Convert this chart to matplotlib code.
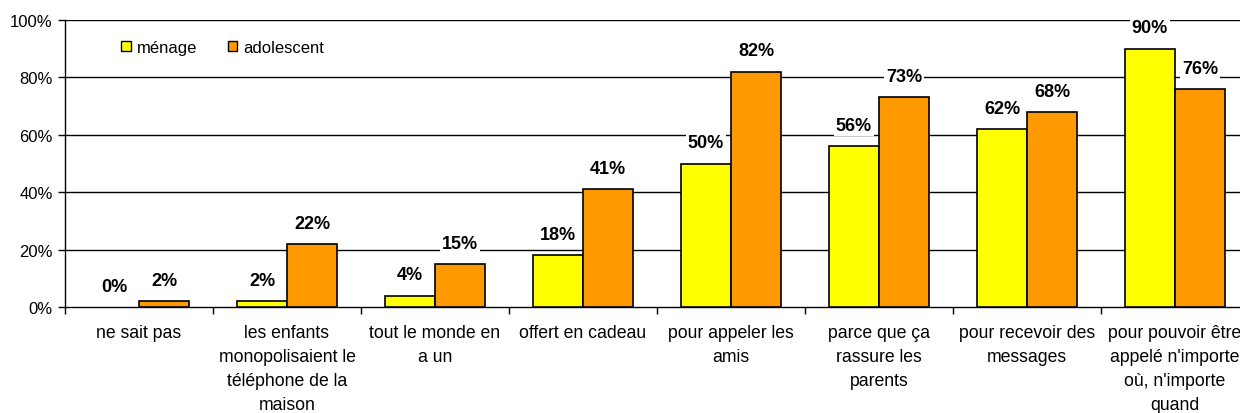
import matplotlib.pyplot as plt
from matplotlib.patches import Patch
import numpy as np

plt.rcParams['font.family'] = ['Liberation Sans', 'DejaVu Sans']

categories = [
    "ne sait pas",
    "les enfants\nmonopolisaient le\ntéléphone de la\nmaison",
    "tout le monde en\na un",
    "offert en cadeau",
    "pour appeler les\namis",
    "parce que ça\nrassure les\nparents",
    "pour recevoir des\nmessages",
    "pour pouvoir être\nappelé n'importe\noù, n'importe\nquand",
]
menage = [0, 2, 4, 18, 50, 56, 62, 90]
adolescent = [2, 22, 15, 41, 82, 73, 68, 76]
y_ticks = [0, 20, 40, 60, 80, 100]

YELLOW = '#FFFF00'
ORANGE = '#FF9900'

fig = plt.figure(figsize=(12.4, 4.14), dpi=100)
ax = fig.add_axes([65 / 1240, 106 / 414, 1184 / 1240, 287 / 414])

x = np.arange(len(categories))
w = 0.338
b1 = ax.bar(x - w / 2, menage, w, color=YELLOW, edgecolor='black', linewidth=1.2, zorder=3)
b2 = ax.bar(x + w / 2, adolescent, w, color=ORANGE, edgecolor='black', linewidth=1.2, zorder=3)

for bars, vals in ((b1, menage), (b2, adolescent)):
    for rect, v in zip(bars, vals):
        if v == 0:
            rect.set_linewidth(0)  # empty bar: no outline
        ax.annotate(f"{v}%", (rect.get_x() + rect.get_width() / 2, v),
                    xytext=(0, 15), textcoords='offset points',
                    ha='center', va='center', fontsize=13, fontweight='bold',
                    bbox=dict(facecolor='white', edgecolor='none', pad=1.5),
                    zorder=4)

ax.set_xlim(-0.5, len(categories) - 0.5)
ax.set_ylim(0, 100)
ax.set_yticks(y_ticks)
ax.set_yticklabels([f"{t}%" for t in y_ticks])
for t in y_ticks[1:]:
    ax.axhline(t, color='black', linewidth=1, zorder=1)

# category labels centred, ticks on the boundaries
ax.set_xticks(x)
ax.set_xticklabels(categories, linespacing=1.53)
ax.tick_params(axis='x', length=0, pad=12.5, labelsize=12.7)
ax.set_xticks(np.arange(len(categories) + 1) - 0.5, minor=True)
ax.tick_params(axis='x', which='minor', length=5, width=1, direction='out')
ax.tick_params(axis='y', length=5, width=1, direction='out', labelsize=12, pad=4)

ax.spines['top'].set_visible(False)
ax.spines['right'].set_visible(False)
ax.spines['left'].set_linewidth(1)
ax.spines['bottom'].set_linewidth(1)

handles = [Patch(facecolor=YELLOW, edgecolor='black', label='ménage'),
           Patch(facecolor=ORANGE, edgecolor='black', label='adolescent')]
ax.legend(handles=handles, loc='center left', bbox_to_anchor=(0.035, 0.905),
          ncol=2, frameon=False, fontsize=12, handlelength=0.55, handleheight=0.55,
          handletextpad=0.4, columnspacing=1.8)

fig.savefig('out.png', dpi=100)
